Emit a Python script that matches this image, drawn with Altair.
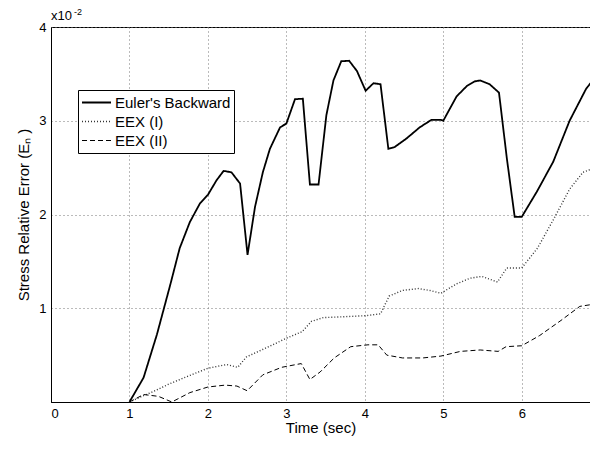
import altair as alt
import pandas as pd

series_names = ["Euler's Backward", "EEX (I)", "EEX (II)"]

t_euler = [1.00, 1.18, 1.35, 1.52, 1.64, 1.77, 1.90, 2.00, 2.11, 2.20, 2.30, 2.41, 2.505,
           2.60, 2.70, 2.79, 2.92, 3.00, 3.11, 3.21, 3.30, 3.41, 3.51, 3.60, 3.70, 3.80,
           3.90, 4.01, 4.11, 4.20, 4.30, 4.38, 4.53, 4.70, 4.85, 4.97, 5.00, 5.17, 5.30,
           5.40, 5.47, 5.59, 5.71, 5.81, 5.91, 6.00, 6.19, 6.40, 6.61, 6.82, 6.97]
v_euler = [0.00, 0.26, 0.72, 1.25, 1.64, 1.92, 2.12, 2.21, 2.365, 2.465, 2.45, 2.33, 1.57,
           2.08, 2.45, 2.70, 2.93, 2.97, 3.23, 3.235, 2.32, 2.32, 3.06, 3.43, 3.635, 3.64,
           3.53, 3.32, 3.40, 3.39, 2.70, 2.72, 2.81, 2.93, 3.01, 3.01, 3.00, 3.26, 3.37,
           3.42, 3.43, 3.39, 3.30, 2.60, 1.975, 1.975, 2.24, 2.56, 3.00, 3.34, 3.50]

t_eex1 = [1.00, 1.13, 1.30, 1.50, 1.73, 2.00, 2.24, 2.38, 2.49, 2.75, 3.00, 3.20, 3.32,
          3.47, 3.74, 4.00, 4.20, 4.31, 4.48, 4.68, 4.83, 4.97, 5.17, 5.34, 5.49, 5.69,
          5.81, 6.00, 6.20, 6.40, 6.61, 6.78, 6.97]
v_eex1 = [0.00, 0.05, 0.11, 0.19, 0.27, 0.36, 0.40, 0.37, 0.48, 0.58, 0.68, 0.75, 0.86,
          0.90, 0.91, 0.92, 0.94, 1.13, 1.19, 1.21, 1.19, 1.16, 1.26, 1.32, 1.34, 1.28,
          1.43, 1.43, 1.64, 1.94, 2.27, 2.45, 2.51]

t_eex2 = [1.00, 1.18, 1.37, 1.54, 1.77, 2.00, 2.22, 2.37, 2.50, 2.70, 2.94, 3.19, 3.30,
          3.43, 3.61, 3.82, 4.04, 4.17, 4.28, 4.48, 4.74, 4.97, 5.22, 5.47, 5.70, 5.80,
          6.00, 6.23, 6.50, 6.74, 6.97]
v_eex2 = [0.00, 0.08, 0.06, 0.00, 0.10, 0.16, 0.18, 0.17, 0.12, 0.29, 0.37, 0.41, 0.24,
          0.32, 0.47, 0.59, 0.61, 0.61, 0.50, 0.47, 0.47, 0.49, 0.54, 0.555, 0.54, 0.59,
          0.60, 0.71, 0.87, 1.02, 1.05]

x_ticks = [0, 1, 2, 3, 4, 5, 6]
y_ticks = [1, 2, 3, 4]
x_domain = [0, 6.87]
y_domain = [0, 4]

rows = []
for name, ts, vs in zip(series_names, [t_euler, t_eex1, t_eex2], [v_euler, v_eex1, v_eex2]):
    for i, (t, v) in enumerate(zip(ts, vs)):
        rows.append({"series": name, "t": t, "v": v, "order": i})
df = pd.DataFrame(rows)

FONT = "Liberation Sans"

lines = alt.Chart(df).mark_line(clip=True).encode(
    x=alt.X("t:Q", scale=alt.Scale(domain=x_domain, nice=False),
            axis=alt.Axis(values=x_ticks, title="Time (sec)", format="d")),
    y=alt.Y("v:Q", scale=alt.Scale(domain=y_domain, nice=False),
            axis=alt.Axis(values=y_ticks, title="Stress Relative Error (Eₙ )", format="d")),
    order="order:Q",
    color=alt.Color("series:N", sort=series_names,
                    scale=alt.Scale(domain=series_names, range=["#000000", "#333333", "#000000"]),
                    legend=alt.Legend(title=None, orient="none", legendX=27, legendY=63,
                                      symbolType="stroke", symbolSize=841,
                                      clipHeight=19, rowPadding=0, padding=3,
                                      strokeColor="#000000", fillColor="#ffffff",
                                      labelFont=FONT, labelFontSize=15, labelColor="#000000",
                                      labelOffset=3, labelLimit=300)),
    strokeDash=alt.StrokeDash("series:N", sort=series_names,
                              scale=alt.Scale(domain=series_names, range=[[1, 0], [1, 2], [5, 3]])),
    strokeWidth=alt.StrokeWidth("series:N", sort=series_names,
                                scale=alt.Scale(domain=series_names, range=[1.8, 1.0, 1.8])),
)

exp_base = alt.Chart(pd.DataFrame({"s": ["x10"]})).mark_text(
    font=FONT, fontSize=13, align="left", baseline="alphabetic", color="#000000"
).encode(text="s:N", x=alt.value(0), y=alt.value(-7))
exp_sup = alt.Chart(pd.DataFrame({"s": ["-2"]})).mark_text(
    font=FONT, fontSize=9, align="left", baseline="alphabetic", color="#000000"
).encode(text="s:N", x=alt.value(23), y=alt.value(-12))

chart = alt.layer(lines, exp_base, exp_sup).properties(
    width=539, height=375,
    autosize=alt.AutoSizeParams(type="none"),
    padding={"left": 43, "top": 19, "right": 0, "bottom": 34},
    background="#ffffff",
).configure_view(
    stroke="#000000", strokeWidth=1
).configure_axis(
    domainColor="#000000", domainWidth=1,
    grid=True, gridColor="#777777", gridDash=[1, 3], gridWidth=1, gridOpacity=1,
    ticks=False, labelPadding=5,
    labelFont=FONT, labelFontSize=13, labelColor="#000000",
    titleFont=FONT, titleFontSize=15, titleFontWeight="normal", titleColor="#000000",
).configure_axisX(
    titlePadding=0,
).configure_axisY(
    titlePadding=7,
)

chart.save("out.html", embed_options={"renderer": "svg", "actions": False})
